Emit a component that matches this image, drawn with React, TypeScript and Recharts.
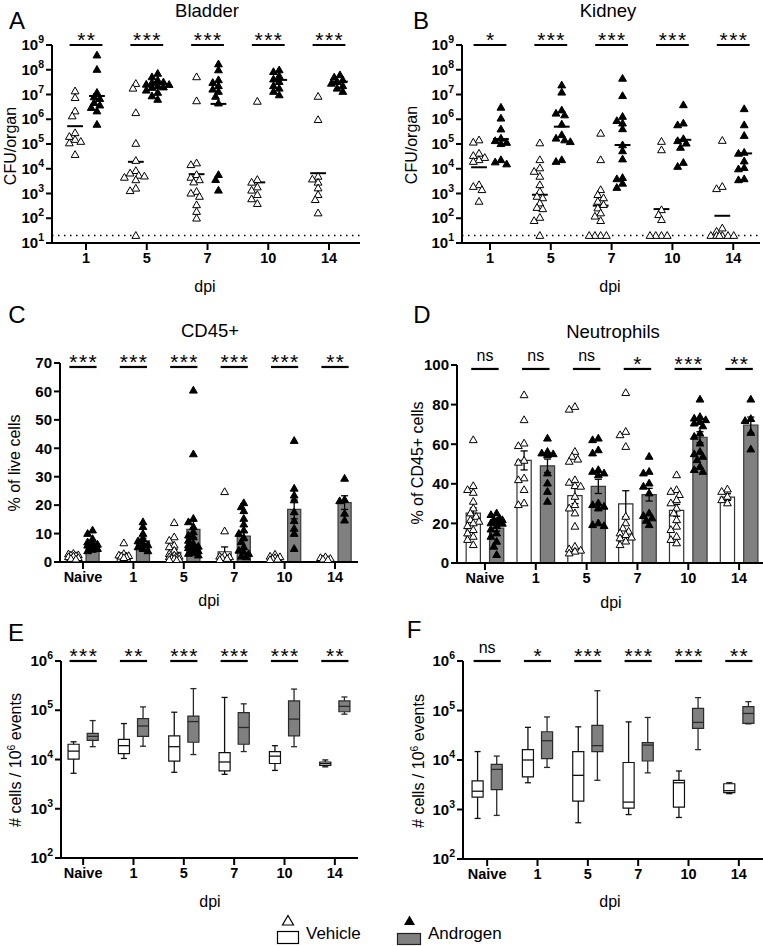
import React from "react";
import { ComposedChart, Scatter, XAxis, YAxis, ReferenceLine, ReferenceArea, ReferenceDot } from "recharts";

const FONT = "Arial, 'Liberation Sans', Helvetica, sans-serif";
const GREY = "#808080";

const dpiShort = ["1", "5", "7", "10", "14"];
const dpiLong = ["Naive", "1", "5", "7", "10", "14"];

// A: bladder, log10 CFU/organ per mouse
const bladderVehLog = [
  [7.14, 6.87, 6.33, 6.13, 5.45, 5.3, 5.18, 5.1, 5.04, 4.57],
  [7.44, 7.25, 6.26, 5.02, 4.33, 3.92, 3.82, 3.73, 3.65, 3.55, 3.7, 3.21, 3.11, 1.3],
  [7.71, 6.74, 4.23, 4.16, 3.76, 3.65, 3.55, 3.46, 3.08, 3.01, 2.88, 2.54, 2.27, 2.0],
  [6.72, 3.56, 3.45, 3.26, 3.13, 2.95, 2.78, 2.59],
  [6.92, 5.98, 3.69, 3.58, 3.45, 3.22, 2.95, 2.75, 2.21],
];
const bladderAndLog = [
  [8.59, 8.01, 7.08, 6.9, 6.83, 6.67, 6.57, 6.47, 6.33, 5.79],
  [7.85, 7.71, 7.58, 7.48, 7.41, 7.35, 7.28, 7.17, 7.08, 6.94, 6.8, 7.5, 7.4, 7.3],
  [8.23, 7.99, 7.59, 7.48, 7.35, 7.21, 7.12, 6.92, 6.65, 3.76, 3.56, 3.13],
  [7.99, 7.92, 7.75, 7.62, 7.52, 7.35, 7.25, 7.12, 6.98],
  [7.79, 7.7, 7.59, 7.52, 7.45, 7.35, 7.25, 7.12],
];
const bladderVehMeanLog = [5.72, 4.28, 3.78, 3.45, 3.82];
const bladderAndMeanLog = [6.94, 7.46, 6.62, 7.59, 7.52];

// B: kidney, log10 CFU/organ
const kidneyVehLog = [
  [5.16, 5.07, 4.62, 4.53, 4.45, 4.36, 4.29, 3.35, 3.28, 3.15, 2.68],
  [5.04, 4.36, 4.03, 3.89, 3.69, 3.35, 3.08, 2.88, 2.82, 2.61, 2.43, 2.38, 2.03, 1.9, 1.3],
  [5.43, 4.36, 3.15, 2.95, 2.82, 2.68, 2.55, 2.41, 2.21, 2.08, 1.9, 1.3, 1.3, 1.3, 1.3],
  [5.1, 4.76, 2.34, 2.14, 1.94, 1.3, 1.3, 1.3, 1.3],
  [5.14, 3.28, 3.19, 1.6, 1.47, 1.3, 1.3, 1.3, 1.3, 1.3, 1.3],
];
const kidneyAndLog = [
  [6.48, 6.04, 5.6, 5.23, 5.13, 5.06, 5.01, 4.36, 4.27, 4.19],
  [7.38, 7.09, 6.37, 6.24, 6.17, 5.8, 5.37, 5.23, 5.16, 5.09, 4.36, 4.29],
  [7.65, 6.95, 6.11, 5.94, 5.84, 5.61, 4.96, 4.72, 4.39, 3.64, 3.59, 3.41, 3.24],
  [6.58, 5.84, 5.77, 5.21, 5.13, 5.03, 4.86, 4.25, 4.09],
  [6.42, 5.77, 5.34, 4.66, 4.62, 4.31, 4.04, 3.99, 3.59, 3.55],
];
const kidneyVehMeanLog = [4.06, 2.95, 2.51, 2.37, 2.1];
const kidneyAndMeanLog = [5.2, 5.7, 4.96, 5.17, 4.62];

// C: CD45+ % of live cells
const cd45Veh = [
  [1.5, 2.0, 2.5, 3.0, 1.2, 2.2, 1.8, 2.8, 1.0, 2.4],
  [6.7, 2.9, 2.4, 2.0, 1.5, 1.8, 2.2],
  [13.8, 8.8, 7.6, 5.9, 5.3, 4.1, 2.9, 2.4, 1.8, 1.2, 0.8, 1.5, 1.0, 2.0, 0.6, 1.3],
  [24.7, 10.9, 2.4, 1.8, 1.5, 1.2, 0.8, 2.0],
  [2.7, 2.0, 1.5, 1.2, 0.8, 1.0, 1.8],
  [1.5, 1.2, 0.8, 1.8, 1.0],
];
const cd45And = [
  [11.2, 10, 8.2, 7, 6.5, 5.9, 5.1, 4.4, 3.9, 4.7, 6.2, 5.5],
  [14.1, 12.4, 10, 8.2, 7.4, 6.5, 5.3, 3.9, 4.7, 6.0],
  [60.4, 38.0, 15.3, 14.1, 12.4, 10.6, 9.4, 8.8, 7.6, 6.5, 5.3, 4.7, 3.9, 3.2, 2.4, 5.0, 4.0, 6.0, 5.5, 3.0],
  [20.8, 19.4, 18.0, 15.3, 13.3, 11.2, 10, 8.6, 7.1, 5.3, 4.1, 2.9, 1.8, 2.0, 3.5],
  [42.7, 25.9, 23.5, 21.8, 17.6, 14.5, 11.8, 10, 4.7],
  [29.4, 22, 21.5, 17.1, 14.7],
];
const cd45VehMean = [2.1, 2.6, 3.4, 3.6, 1.5, 1.2];
const cd45VehSem = [0.2, 0.6, 1.0, 1.7, 0.3, 0.2];
const cd45AndMean = [6.5, 7.4, 11.5, 9.1, 18.5, 20.9];
const cd45AndSem = [0.7, 1.0, 3.0, 1.6, 3.3, 2.4];

// D: neutrophils % of CD45+ cells
const neutVeh = [
  [62.2, 39, 37, 35.6, 31.1, 27.7, 25.2, 23.5, 21.8, 21, 20.2, 18.8, 16.8, 15.1, 13.4, 11.8, 9.2],
  [84.9, 72.3, 59.2, 60.5, 51.8, 50.8, 42.9, 42, 37, 30.3, 29.4],
  [79, 77.6, 56.3, 53.8, 52.4, 51.3, 42, 40.7, 39, 38.7, 33.6, 29.4, 27.7, 25.2, 18.5, 8.4, 7.1, 6.4, 5.9, 5.0],
  [86, 66.4, 64.7, 58.8, 23.5, 20.2, 17.6, 16, 15.1, 14.3, 12.6, 9.2, 13, 11],
  [44.5, 37, 36.1, 34.5, 31.9, 30.3, 27.7, 25.2, 21.8, 18.5, 16.8, 13.4, 10.1, 11.8],
  [37.3, 36.1, 33.6, 31.9, 30.3],
];
const neutAnd = [
  [25.2, 24.4, 22.7, 21.8, 21, 20.2, 18.8, 17.1, 15.1, 13.4, 10.9, 8.4, 4.2, 22, 20],
  [63, 56.3, 55.5, 55.1, 54.6, 45.4, 40.3, 36.1, 31.1],
  [63, 62.2, 57.1, 55.5, 47.1, 46.2, 45.4, 44.5, 30.3, 29.4, 28.6, 27.7, 20.2, 19.3, 18.8],
  [53.8, 46.2, 45.4, 40.3, 38.7, 35.3, 25.2, 23.9, 22.7, 21.5, 19.3],
  [82.7, 73.9, 73.1, 72.3, 71.4, 70.6, 69.2, 65.5, 63.9, 60.5, 56.3, 55.1, 53.8, 52.1, 48.7, 47.1, 46.2],
  [82.7, 72.9, 71.9, 65.9, 57.5],
];
const neutVehMean = [25.2, 51.8, 34, 29.9, 26.6, 33.3];
const neutVehSem = [2.6, 4.8, 4.0, 6.6, 3.0, 1.7];
const neutAndMean = [17.6, 49.1, 38.7, 34.5, 63.5, 69.7];
const neutAndSem = [1.5, 3.4, 3.6, 3.2, 2.8, 4.0];

// E, F: # cells / 10^6 events — [min, q1, median, q3, max]
type Box = [number, number, number, number, number];
const eVehBox: Box[] = [
  [5250, 10200, 14800, 20400, 22900],
  [10500, 13200, 19100, 25700, 53700],
  [5500, 9300, 18200, 30200, 91200],
  [5000, 5900, 8900, 13800, 182000],
  [6000, 8300, 11700, 14500, 19100],
  [7100, 7600, 8300, 8900, 9800],
];
const eAndBox: Box[] = [
  [18200, 24500, 29500, 33900, 61700],
  [18600, 29500, 47900, 67600, 117000],
  [12600, 22400, 58900, 75900, 275000],
  [14500, 20400, 44700, 89100, 135000],
  [18200, 30200, 66100, 155000, 269000],
  [83200, 93300, 120000, 155000, 186000],
];
const fVehBox: Box[] = [
  [660, 1780, 2340, 3800, 14800],
  [3470, 4570, 10000, 16200, 45700],
  [540, 1480, 4900, 14800, 46800],
  [790, 1070, 1410, 8900, 58900],
  [690, 1120, 3470, 3890, 6000],
  [2090, 2190, 2400, 3310, 3470],
];
const fAndBox: Box[] = [
  [760, 2510, 6460, 8130, 12000],
  [7080, 10700, 24500, 37200, 74100],
  [3890, 14800, 19500, 50100, 251000],
  [5500, 9550, 20000, 22400, 72400],
  [16200, 43700, 57500, 110000, 182000],
  [53700, 55000, 87100, 120000, 151000],
];

const sigA = ["**", "***", "***", "***", "***"];
const sigB = ["*", "***", "***", "***", "***"];
const sigC = ["***", "***", "***", "***", "***", "**"];
const sigD = ["ns", "ns", "ns", "*", "***", "**"];
const sigE = ["***", "**", "***", "***", "***", "**"];
const sigF = ["ns", "*", "***", "***", "***", "**"];

const logTicks9 = [1e1, 1e2, 1e3, 1e4, 1e5, 1e6, 1e7, 1e8, 1e9];
const logTicks6 = [1e2, 1e3, 1e4, 1e5, 1e6];
const cd45Ticks = [0, 10, 20, 30, 40, 50, 60, 70];
const neutTicks = [0, 20, 40, 60, 80, 100];
const LOD = 20;

const pow10 = (groups: number[][]) => groups.map((g) => g.map((v) => Math.pow(10, v)));

// spread overlapping points sideways (GraphPad-like), overlapping when crowded
function swarm(vals: number[], center: number, toPx: (v: number) => number, pxPerCat: number, d: number, maxDx: number) {
  const placed: { dx: number; py: number }[] = [];
  const step = d * 0.55;
  return [...vals]
    .sort((a, b) => b - a)
    .map((v) => {
      const py = toPx(v);
      let best = 0;
      let bestScore = -1;
      for (let k = 0; k < 60; k++) {
        const c = k === 0 ? 0 : (k % 2 ? -1 : 1) * Math.ceil(k / 2) * step;
        if (Math.abs(c) > maxDx) break;
        const minD = placed.reduce((m, p) => Math.min(m, Math.hypot(p.dx - c, p.py - py)), Infinity);
        if (minD >= d) {
          best = c;
          break;
        }
        if (minD > bestScore + 0.01) {
          best = c;
          bestScore = minD;
        }
      }
      placed.push({ dx: best, py });
      return { x: center + best / pxPerCat, y: v };
    });
}

const tri = (cx: number, cy: number) => `M${cx},${cy - 4} L${cx + 3.9},${cy + 2.8} L${cx - 3.9},${cy + 2.8} Z`;
const OpenTri = (p: any) => <path d={tri(p.cx, p.cy)} fill="#fff" stroke="#000" strokeWidth={1} />;
const FillTri = (p: any) => <path d={tri(p.cx, p.cy)} fill="#000" stroke="#000" strokeWidth={1} />;

function SigLabel(props: any) {
  const { viewBox, text } = props;
  if (!viewBox) return null;
  const cx = viewBox.x + (viewBox.width || 0) / 2;
  const cy = viewBox.y + (viewBox.height || 0) / 2;
  const ns = text === "ns";
  return (
    <text
      x={cx + (ns ? 0 : 0.7)}
      y={cy - (ns ? 8 : -2)}
      textAnchor="middle"
      fontFamily={FONT}
      fontSize={ns ? 16 : 21}
      letterSpacing={ns ? 0 : 1.4}
      fill="#000"
    >
      {text}
    </text>
  );
}

function PowTick(props: any) {
  const { x, y, payload } = props;
  const e = Math.round(Math.log10(payload.value));
  return (
    <text x={x} y={y} dy={5} textAnchor="end" fill="#000" fontFamily={FONT} fontSize={15} fontWeight="bold">
      10
      <tspan dy={-7} fontSize={10.5}>
        {e}
      </tspan>
    </text>
  );
}

interface PanelProps {
  left: number;
  top: number;
  width: number;
  height: number;
  margin: { top: number; right: number; bottom: number; left: number };
  cats: string[];
  xDomain: [number, number];
  log?: boolean;
  yDomain: [number, number];
  yTicks: number[];
  yPx: (v: number) => number;
  pxPerCat: number;
  off: number;
  hw?: number;
  dot?: number;
  spread?: number;
  veh?: number[][];
  and?: number[][];
  vehLine?: number[];
  andLine?: number[];
  vehBar?: number[];
  andBar?: number[];
  vehSem?: number[];
  andSem?: number[];
  vehBox?: Box[];
  andBox?: Box[];
  sig: string[];
  sigY?: number;
  lod?: number;
}

function seg(key: string, x1: number, y1: number, x2: number, y2: number, stroke = "#000", w = 1.5) {
  return (
    <ReferenceLine
      key={key}
      segment={[
        { x: x1, y: y1 },
        { x: x2, y: y2 },
      ]}
      stroke={stroke}
      strokeWidth={w}
      ifOverflow="visible"
    />
  );
}

function Panel(p: PanelProps) {
  const top = p.sigY ?? p.yDomain[1];
  const hw = p.hw ?? 0.12;
  const d = p.dot ?? 5.5;
  const sp = p.spread ?? 12;
  const vPts = (p.veh ?? []).flatMap((g, i) => swarm(g, i - p.off, p.yPx, p.pxPerCat, d, sp));
  const aPts = (p.and ?? []).flatMap((g, i) => swarm(g, i + p.off, p.yPx, p.pxPerCat, d, sp));

  const bars = (means: number[] | undefined, sems: number[] | undefined, dir: number, fill: string, stroke: string) =>
    (means ?? []).flatMap((m, i) => {
      const c = i + dir * p.off;
      const s = sems ? sems[i] : 0;
      return [
        <ReferenceArea key={`b${dir}${i}`} x1={c - hw} x2={c + hw} y1={0} y2={m} fill={fill} fillOpacity={1} stroke={stroke} strokeWidth={1.2} />,
        seg(`e${dir}${i}`, c, m - s, c, m + s, "#000", 1.3),
        seg(`u${dir}${i}`, c - 0.07, m + s, c + 0.07, m + s, "#000", 1.3),
        seg(`l${dir}${i}`, c - 0.07, m - s, c + 0.07, m - s, "#000", 1.3),
      ];
    });

  const boxes = (data: Box[] | undefined, dir: number, fill: string, stroke: string) =>
    (data ?? []).flatMap((b, i) => {
      const c = i + dir * p.off;
      const [mn, q1, md, q3, mx] = b;
      return [
        seg(`wl${dir}${i}`, c, mn, c, q1, stroke, 1.3),
        seg(`wh${dir}${i}`, c, q3, c, mx, stroke, 1.3),
        seg(`cl${dir}${i}`, c - 0.06, mn, c + 0.06, mn, stroke, 1.3),
        seg(`ch${dir}${i}`, c - 0.06, mx, c + 0.06, mx, stroke, 1.3),
        <ReferenceArea key={`bx${dir}${i}`} x1={c - hw} x2={c + hw} y1={q1} y2={q3} fill={fill} fillOpacity={1} stroke={stroke} strokeWidth={1.2} />,
        seg(`md${dir}${i}`, c - hw, md, c + hw, md, stroke, 1.3),
      ];
    });

  const meanLines = (means: number[] | undefined, dir: number) =>
    (means ?? []).map((m, i) => seg(`m${dir}${i}`, i + dir * p.off - 0.13, m, i + dir * p.off + 0.13, m, "#000", 2));

  return (
    <div style={{ position: "absolute", left: p.left, top: p.top }}>
      <ComposedChart width={p.width} height={p.height} margin={p.margin}>
        <XAxis
          type="number"
          dataKey="x"
          domain={p.xDomain}
          ticks={p.cats.map((_, i) => i)}
          tickFormatter={(v: number) => p.cats[Math.round(v)]}
          allowDataOverflow
          interval={0}
          height={30}
          axisLine={{ stroke: "#000", strokeWidth: 2 }}
          tickLine={{ stroke: "#000", strokeWidth: 2 }}
          tickSize={7}
          tickMargin={3}
          tick={{ fill: "#000", fontSize: 14.5, fontWeight: "bold", fontFamily: FONT }}
        />
        <YAxis
          type="number"
          dataKey="y"
          scale={p.log ? "log" : "linear"}
          domain={p.yDomain}
          ticks={p.yTicks}
          allowDataOverflow
          interval={0}
          width={52}
          axisLine={{ stroke: "#000", strokeWidth: 2 }}
          tickLine={{ stroke: "#000", strokeWidth: 2 }}
          tickSize={6}
          tickMargin={2}
          tick={p.log ? (t: any) => <PowTick {...t} /> : { fill: "#000", fontSize: 15, fontWeight: "bold", fontFamily: FONT }}
        />
        {bars(p.vehBar, p.vehSem, -1, "#fff", "#333")}
        {bars(p.andBar, p.andSem, 1, GREY, "#3a3a3a")}
        {boxes(p.vehBox, -1, "#fff", "#111")}
        {boxes(p.andBox, 1, GREY, "#2a2a2a")}
        {p.lod ? <ReferenceLine y={p.lod} stroke="#000" strokeWidth={1.5} strokeDasharray="1.5 4.5" /> : null}
        {p.sig.map((_, i) => seg(`s${i}`, i - 0.27, top, i + 0.27, top, "#000", 2.2))}
        <Scatter data={vPts} shape={OpenTri} isAnimationActive={false} />
        <Scatter data={aPts} shape={FillTri} isAnimationActive={false} />
        {meanLines(p.vehLine, -1)}
        {meanLines(p.andLine, 1)}
        {p.sig.map((s, i) => (
          <ReferenceDot key={`t${i}`} x={i} y={top} r={0} ifOverflow="visible" label={<SigLabel text={s} />} />
        ))}
      </ComposedChart>
    </div>
  );
}

function Txt({ x, y, size, rotate, children }: { x: number; y: number; size: number; rotate?: boolean; children: React.ReactNode }) {
  return (
    <div
      style={{
        position: "absolute",
        left: x,
        top: y,
        transform: `translate(-50%, -50%)${rotate ? " rotate(-90deg)" : ""}`,
        fontSize: size,
        fontFamily: FONT,
        lineHeight: 1,
        whiteSpace: "nowrap",
        color: "#000",
      }}
    >
      {children}
    </div>
  );
}

const Sup = ({ children }: { children: React.ReactNode }) => (
  <span style={{ fontSize: "0.65em", position: "relative", top: "-0.55em" }}>{children}</span>
);

const logPx = (v: number) => Math.log10(v) * 24.75;
const logPxE = (v: number) => Math.log10(v) * 49.3;

export default function App() {
  return (
    <div style={{ position: "absolute", left: 0, top: 0, width: 763, height: 946, background: "#fff", overflow: "hidden" }}>
      <Panel
        left={0} top={0} width={372} height={280}
        margin={{ top: 45, right: 12, bottom: 7, left: 0 }}
        cats={dpiShort} xDomain={[-0.56, 4.51]} log yDomain={[10, 1e9]} yTicks={logTicks9}
        yPx={logPx} pxPerCat={60.75} off={0.18} dot={5.2} spread={12}
        veh={pow10(bladderVehLog)} and={pow10(bladderAndLog)}
        vehLine={bladderVehMeanLog.map((v) => Math.pow(10, v))} andLine={bladderAndMeanLog.map((v) => Math.pow(10, v))}
        sig={sigA} lod={LOD}
      />
      <Panel
        left={380} top={0} width={383} height={280}
        margin={{ top: 45, right: 3, bottom: 7, left: 30 }}
        cats={dpiShort} xDomain={[-0.46, 4.44]} log yDomain={[10, 1e9]} yTicks={logTicks9}
        yPx={logPx} pxPerCat={60.75} off={0.18} dot={5.2} spread={12}
        veh={pow10(kidneyVehLog)} and={pow10(kidneyAndLog)}
        vehLine={kidneyVehMeanLog.map((v) => Math.pow(10, v))} andLine={kidneyAndMeanLog.map((v) => Math.pow(10, v))}
        sig={sigB} lod={LOD}
      />
      <Panel
        left={0} top={300} width={370} height={300}
        margin={{ top: 63, right: 12, bottom: 8, left: 8 }}
        cats={dpiLong} xDomain={[-0.456, 5.456]} yDomain={[0, 70]} yTicks={cd45Ticks} sigY={68.6}
        yPx={(v) => v * 2.84} pxPerCat={50.4} off={0.19} hw={0.13} dot={4.5} spread={7}
        veh={cd45Veh} and={cd45And}
        vehBar={cd45VehMean} vehSem={cd45VehSem} andBar={cd45AndMean} andSem={cd45AndSem}
        sig={sigC}
      />
      <Panel
        left={380} top={300} width={383} height={300}
        margin={{ top: 65, right: 0, bottom: 7, left: 25 }}
        cats={dpiLong} xDomain={[-0.55, 5.47]} yDomain={[0, 100]} yTicks={neutTicks} sigY={98}
        yPx={(v) => v * 1.98} pxPerCat={50.8} off={0.23} hw={0.14} dot={5.2} spread={8}
        veh={neutVeh} and={neutAnd}
        vehBar={neutVehMean} vehSem={neutVehSem} andBar={neutAndMean} andSem={neutAndSem}
        sig={sigD}
      />
      <Panel
        left={0} top={600} width={370} height={300}
        margin={{ top: 61, right: 12, bottom: 12, left: 9 }}
        cats={dpiLong} xDomain={[-0.44, 5.46]} log yDomain={[100, 1e6]} yTicks={logTicks6}
        yPx={logPxE} pxPerCat={50.4} off={0.19} hw={0.11}
        vehBox={eVehBox} andBox={eAndBox}
        sig={sigE}
      />
      <Panel
        left={380} top={600} width={383} height={300}
        margin={{ top: 61, right: 0, bottom: 11, left: 31 }}
        cats={dpiLong} xDomain={[-0.48, 5.48]} log yDomain={[100, 1e6]} yTicks={logTicks6}
        yPx={logPxE} pxPerCat={50.4} off={0.19} hw={0.11}
        vehBox={fVehBox} andBox={fAndBox}
        sig={sigF}
      />

      <Txt x={17} y={21} size={24}>A</Txt>
      <Txt x={421} y={21} size={24}>B</Txt>
      <Txt x={17} y={315} size={24}>C</Txt>
      <Txt x={422} y={315} size={24}>D</Txt>
      <Txt x={16} y={633} size={24}>E</Txt>
      <Txt x={414} y={630} size={24}>F</Txt>

      <Txt x={207} y={11} size={18.5}>Bladder</Txt>
      <Txt x={608} y={11} size={18.5}>Kidney</Txt>
      <Txt x={210} y={331} size={18.5}>CD45+</Txt>
      <Txt x={613} y={332} size={18.5}>Neutrophils</Txt>

      <Txt x={11} y={146} size={16} rotate>CFU/organ</Txt>
      <Txt x={412} y={145} size={16} rotate>CFU/organ</Txt>
      <Txt x={15} y={463} size={16} rotate>% of live cells</Txt>
      <Txt x={418} y={463} size={16} rotate>% of CD45+ cells</Txt>
      <Txt x={16} y={760} size={16} rotate>
        # cells / 10<Sup>6</Sup> events
      </Txt>
      <Txt x={419} y={761} size={16} rotate>
        # cells / 10<Sup>6</Sup> events
      </Txt>

      <Txt x={205} y={287} size={16}>dpi</Txt>
      <Txt x={610} y={287} size={16}>dpi</Txt>
      <Txt x={209} y={601} size={16}>dpi</Txt>
      <Txt x={611} y={603} size={16}>dpi</Txt>
      <Txt x={210} y={902} size={16}>dpi</Txt>
      <Txt x={610} y={902} size={16}>dpi</Txt>

      <svg width={763} height={946} style={{ position: "absolute", left: 0, top: 0, pointerEvents: "none" }}>
        <path d="M288,915.5 L293.5,925 L282.5,925 Z" fill="#fff" stroke="#000" strokeWidth={1.2} />
        <rect x={277.5} y={931.5} width={21} height={12} fill="#fff" stroke="#000" strokeWidth={1.2} />
        <path d="M409.5,915.5 L415,925 L404,925 Z" fill="#000" />
        <rect x={397.5} y={933.5} width={23} height={11} fill={GREY} stroke="#222" strokeWidth={1.2} />
        <text x={306} y={939} fontFamily={FONT} fontSize={17}>Vehicle</text>
        <text x={428} y={939} fontFamily={FONT} fontSize={17}>Androgen</text>
      </svg>
    </div>
  );
}
